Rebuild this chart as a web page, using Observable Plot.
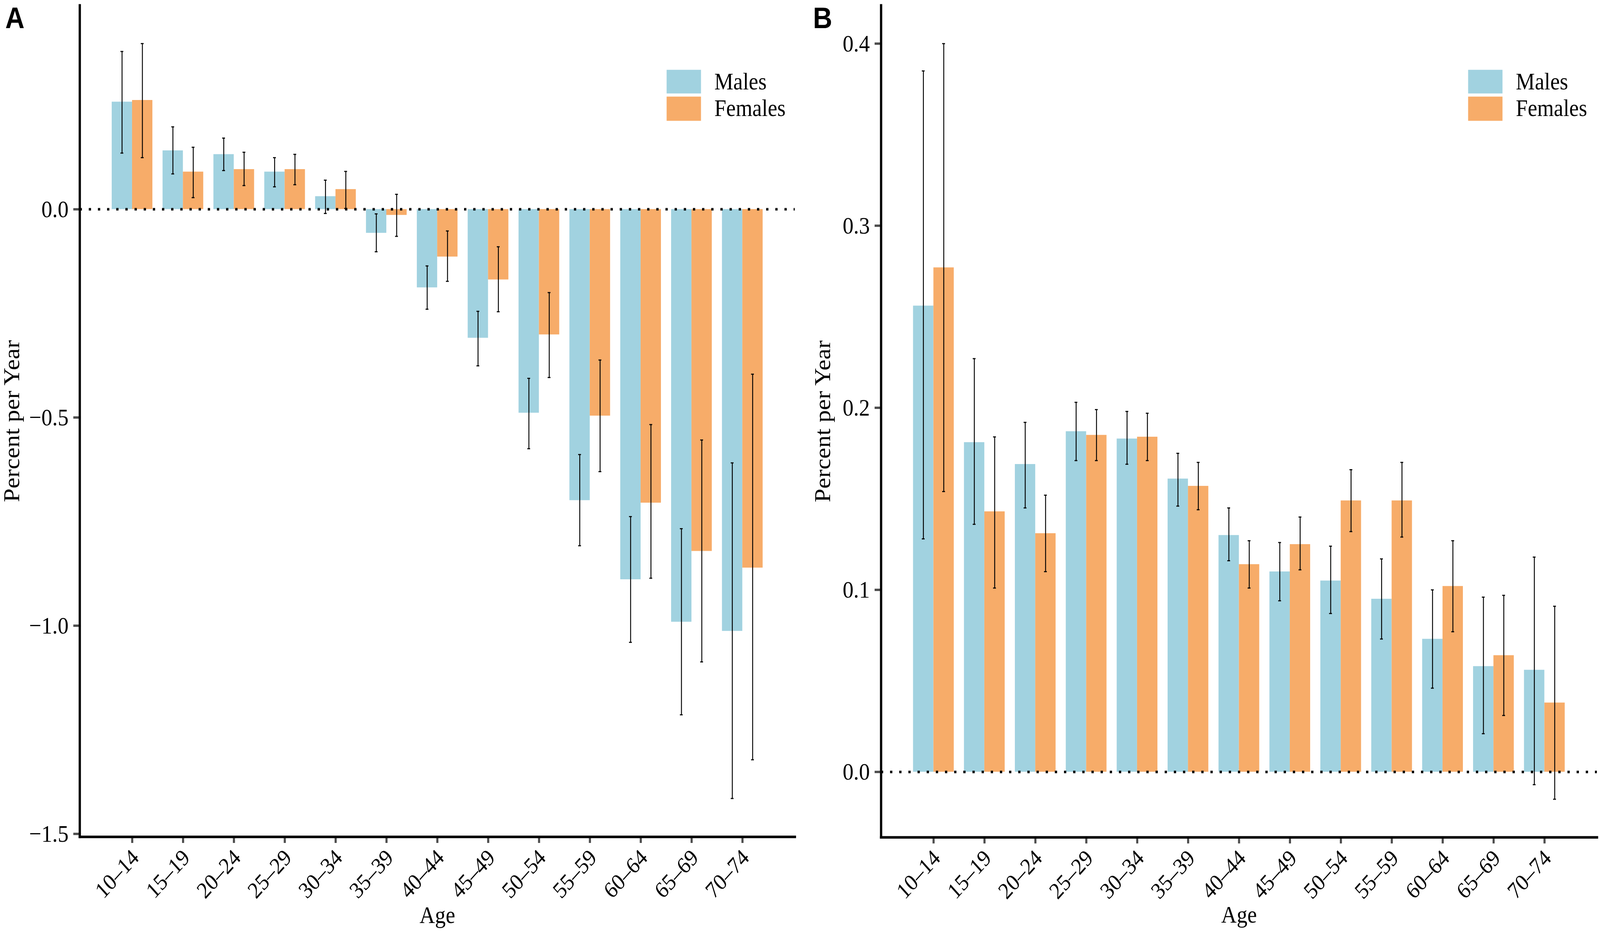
<!DOCTYPE html>
<html>
<head>
<meta charset="utf-8">
<script src="https://cdn.jsdelivr.net/npm/d3@7"></script>
<script src="https://cdn.jsdelivr.net/npm/@observablehq/plot@0.6"></script>
<style>
  html, body { margin: 0; padding: 0; background: #fff; overflow: hidden; }
  #root { position: absolute; left: 0; top: 0; width: 4562px; height: 2386px; background: #fff; overflow: hidden; transform-origin: 0 0; }
  #root svg { position: absolute; top: 0; max-width: none !important; }
</style>
</head>
<body>
<div id="root"></div>
<script>
// ---------- data ----------
const ages = ["10–14","15–19","20–24","25–29","30–34","35–39","40–44","45–49","50–54","55–59","60–64","65–69","70–74"];
const sexes = ["Males", "Females"];

// Panel A
const aMales     = [0.258, 0.141, 0.132, 0.090, 0.031, -0.057, -0.188, -0.309, -0.489, -0.699, -0.889, -0.991, -1.013];
const aMalesLo   = [0.135, 0.085, 0.093, 0.054, -0.010, -0.102, -0.240, -0.376, -0.575, -0.808, -1.040, -1.214, -1.415];
const aMalesHi   = [0.379, 0.198, 0.171, 0.124, 0.070, -0.011, -0.136, -0.245, -0.406, -0.589, -0.738, -0.767, -0.609];
const aFemales   = [0.262, 0.090, 0.096, 0.096, 0.048, -0.014, -0.114, -0.169, -0.301, -0.496, -0.705, -0.821, -0.861];
const aFemalesLo = [0.124, 0.028, 0.057, 0.059, 0.002, -0.065, -0.173, -0.246, -0.404, -0.630, -0.886, -1.087, -1.322];
const aFemalesHi = [0.398, 0.149, 0.137, 0.132, 0.091, 0.036, -0.052, -0.090, -0.200, -0.362, -0.517, -0.554, -0.396];
const aTicks = [0.0, -0.5, -1.0, -1.5];

// Panel B
const bMales     = [0.256, 0.181, 0.169, 0.187, 0.183, 0.161, 0.130, 0.110, 0.105, 0.095, 0.073, 0.058, 0.056];
const bMalesLo   = [0.128, 0.136, 0.145, 0.171, 0.169, 0.146, 0.116, 0.094, 0.087, 0.073, 0.046, 0.021, -0.007];
const bMalesHi   = [0.385, 0.227, 0.192, 0.203, 0.198, 0.175, 0.145, 0.126, 0.124, 0.117, 0.100, 0.096, 0.118];
const bFemales   = [0.277, 0.143, 0.131, 0.185, 0.184, 0.157, 0.114, 0.125, 0.149, 0.149, 0.102, 0.064, 0.038];
const bFemalesLo = [0.154, 0.101, 0.110, 0.171, 0.171, 0.144, 0.101, 0.111, 0.132, 0.129, 0.077, 0.031, -0.015];
const bFemalesHi = [0.400, 0.184, 0.152, 0.199, 0.197, 0.170, 0.127, 0.140, 0.166, 0.170, 0.127, 0.097, 0.091];
const bTicks = [0.0, 0.1, 0.2, 0.3, 0.4];

const yTitle = "Percent per Year";
const xTitle = "Age";

// ---------- style ----------
const BLUE = "#A1D2E0";
const ORANGE = "#F7AC69";
const SERIF = "'Liberation Serif', 'Times New Roman', serif";
const SANS = "'Liberation Sans', Arial, sans-serif";

function rowsFrom(m, mLo, mHi, f, fLo, fHi) {
  const rows = [];
  ages.forEach((age, i) => {
    rows.push({age, sex: "Males", value: m[i], lo: mLo[i], hi: mHi[i]});
    rows.push({age, sex: "Females", value: f[i], lo: fLo[i], hi: fHi[i]});
  });
  return rows;
}

function panel(cfg) {
  const {rows, width, height, ml, mr, mt, mb, yDomain, ticks, titleDx, ageDy} = cfg;
  const xOpts = {type: "band", domain: ages, paddingInner: 0.2, paddingOuter: 0.631, round: false};
  const bw = Plot.scale({x: {...xOpts, range: [ml, width - mr]}}).bandwidth;
  const isM = d => d.sex === "Males";
  const isF = d => d.sex === "Females";
  const capHalf = 4;
  const eb = {stroke: "black", strokeWidth: 2.6};
  const cap = {stroke: "black", strokeWidth: 2.8};
  const svg = Plot.plot({
    width, height,
    marginLeft: ml, marginRight: mr, marginTop: mt, marginBottom: mb,
    style: {fontFamily: SERIF, fontSize: "58px", color: "black", background: "white", overflow: "visible"},
    x: {...xOpts, axis: null},
    y: {domain: yDomain, axis: null},
    color: {domain: sexes, range: [BLUE, ORANGE]},
    marks: [
      Plot.barY(rows, {filter: isM, x: "age", y1: 0, y2: "value", fill: "sex", insetRight: bw / 2}),
      Plot.barY(rows, {filter: isF, x: "age", y1: 0, y2: "value", fill: "sex", insetLeft: bw / 2}),
      Plot.ruleY([0], {stroke: "black", strokeWidth: 6.5, strokeDasharray: "6.5,19.6"}),
      Plot.ruleX(rows, {filter: isM, x: "age", y1: "lo", y2: "hi", dx: -bw / 4, ...eb}),
      Plot.ruleX(rows, {filter: isF, x: "age", y1: "lo", y2: "hi", dx: bw / 4, ...eb}),
      Plot.tickY(rows, {filter: isM, x: "age", y: "lo", insetLeft: bw / 4 - capHalf, insetRight: 3 * bw / 4 - capHalf, ...cap}),
      Plot.tickY(rows, {filter: isM, x: "age", y: "hi", insetLeft: bw / 4 - capHalf, insetRight: 3 * bw / 4 - capHalf, ...cap}),
      Plot.tickY(rows, {filter: isF, x: "age", y: "lo", insetLeft: 3 * bw / 4 - capHalf, insetRight: bw / 4 - capHalf, ...cap}),
      Plot.tickY(rows, {filter: isF, x: "age", y: "hi", insetLeft: 3 * bw / 4 - capHalf, insetRight: bw / 4 - capHalf, ...cap}),
      Plot.axisY({ticks, tickFormat: d3.format(".1f"), tickSize: 18, tickPadding: 14, stroke: "#4d4d4d", strokeWidth: 6, label: null, fontSize: 62}),
      // x ticks (marks only) and rotated x tick labels (text only)
      Plot.axisX({tickSize: 16, tickFormat: () => "", stroke: "#4d4d4d", strokeWidth: 6, label: null}),
      Plot.axisX({tickSize: 0, tickRotate: -45, tickPadding: 43, dx: 9, label: null, fontSize: 59}),
      Plot.frame({anchor: "left", stroke: "black", strokeWidth: 6.5, strokeLinecap: "square"}),
      Plot.frame({anchor: "bottom", stroke: "black", strokeWidth: 6.5, strokeLinecap: "square"}),
      Plot.text([yTitle], {text: d => d, frameAnchor: "left", textAnchor: "middle", lineAnchor: "middle", dx: titleDx, rotate: -90, fontSize: 63}),
      Plot.text([xTitle], {text: d => d, frameAnchor: "bottom", textAnchor: "middle", lineAnchor: "middle", dy: ageDy, fontSize: 61})
    ]
  });
  // panel letter and legend (layout only)
  const s = d3.select(svg);
  s.append("text").attr("x", cfg.letterX).attr("y", 72).attr("text-anchor", "start")
    .attr("font-family", SANS).attr("font-weight", "bold").attr("font-size", 76).attr("fill", "black")
    .text(cfg.letter);
  const lx = cfg.legendX;
  const legendRows = [
    {label: sexes[0], color: BLUE, y: 178.7, h: 60.6, base: 229},
    {label: sexes[1], color: ORANGE, y: 247.3, h: 62, base: 296.7}
  ];
  legendRows.forEach(r => {
    s.append("rect").attr("x", lx).attr("y", r.y).attr("width", 98).attr("height", r.h).attr("fill", r.color);
    s.append("text").attr("x", lx + 136).attr("y", r.base).attr("text-anchor", "start")
      .attr("font-family", SERIF).attr("font-size", 61).attr("fill", "black").text(r.label);
  });
  return svg;
}

const root = document.getElementById("root");

const svgA = panel({
  rows: rowsFrom(aMales, aMalesLo, aMalesHi, aFemales, aFemalesLo, aFemalesHi),
  width: 2290, height: 2386, ml: 227, mr: 24, mt: 13.3, mb: 244,
  yDomain: [-1.5072, 0.4897], ticks: aTicks, titleDx: -193.5, ageDy: 200.5,
  letter: "A", letterX: 15, legendX: 1900.7
});
svgA.style.left = "0px";
root.appendChild(svgA);

const svgB = panel({
  rows: rowsFrom(bMales, bMalesLo, bMalesHi, bFemales, bFemalesLo, bFemalesHi),
  width: 2272, height: 2386, ml: 221.7, mr: 9, mt: 13.3, mb: 242.7,
  yDomain: [-0.03595, 0.4210], ticks: bTicks, titleDx: -165.2, ageDy: 199,
  letter: "B", letterX: 28, legendX: 1896
});
svgB.style.left = "2290px";
root.appendChild(svgB);

// map the 4562x2386 design canvas onto the actual viewport
function fit() {
  const sx = window.innerWidth / 4562, sy = window.innerHeight / 2386;
  root.style.transform = (isFinite(sx) && isFinite(sy) && sx > 0 && sy > 0) ? `scale(${sx}, ${sy})` : "none";
}
fit();
window.addEventListener("resize", fit);
</script>
</body>
</html>
